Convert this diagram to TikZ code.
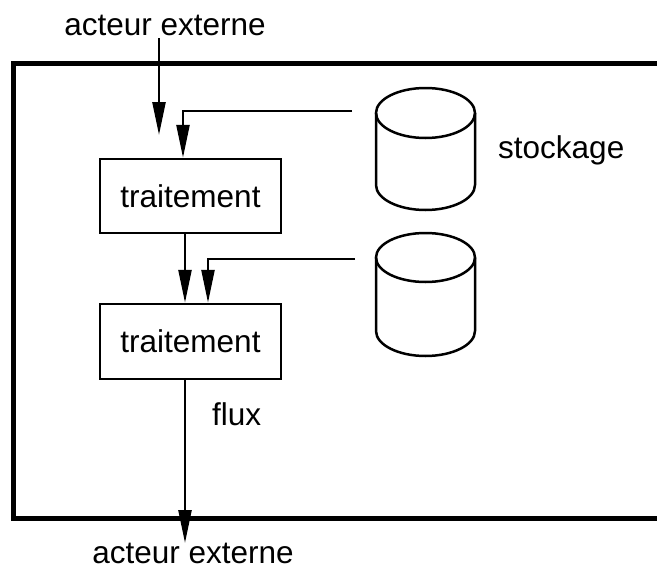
\documentclass[tikz,border=0pt]{standalone}
\usepackage{fontspec}
\setmainfont{Liberation Sans}
\usetikzlibrary{arrows.meta}
\begin{document}
\begin{tikzpicture}[x=1pt,y=-1pt,
  lbl/.style={font=\fontsize{31.5}{36}\selectfont, inner sep=0pt},
  procbox/.style={draw, line width=2.5pt, minimum width=181pt, minimum height=74pt, inner sep=0pt, font=\fontsize{31.5}{36}\selectfont},
  flow/.style={line width=2.5pt, -{Triangle[length=33pt,width=13pt]}},
  store/.style={line width=2.5pt},
  frame/.style={line width=5pt}
]
\useasboundingbox (0,0) rectangle (657,570);
% outer system boundary (open on the right)
\draw[frame] (664,63) -- (13,63) -- (13,518) -- (664,518);

% process boxes
\node[procbox] (t1) at (190.5,196) {traitement};
\node[procbox, minimum height=75pt] (t2) at (190.5,341.5) {traitement};

% labels
\node[lbl, anchor=base] (a1) at (165,35) {acteur externe};
\node[lbl, anchor=base] (a2) at (193,563) {acteur externe};
\node[lbl, anchor=base west] (fx) at (212,425) {flux};
\node[lbl, anchor=base west] (st) at (498,158) {stockage};

% storage cylinders
\draw[store] (376,113) -- (376,185) arc[start angle=180, end angle=360, x radius=49.5pt, y radius=25pt] -- (475,113);
\draw[store] (425.5,113) ellipse[x radius=49.5pt, y radius=25pt];
\draw[store] (376,257.5) -- (376,331) arc[start angle=180, end angle=360, x radius=49.5pt, y radius=25pt] -- (475,257.5);
\draw[store] (425.5,257.5) ellipse[x radius=49.5pt, y radius=24.5pt];

% connector end points
\coordinate (in1) at (159,38);
\coordinate (in1e) at (159,135);
\coordinate (s1) at (352,111);
\coordinate (s2) at (355,259);
\coordinate (out) at (185,543);

% flows
\draw[flow] (in1) -- (in1e);
\draw[flow] (s1) -| ([xshift=-7.5pt]t1.north);
\draw[flow] ([xshift=-5.5pt]t1.south) -- ([xshift=-5.5pt]t2.north);
\draw[flow] (s2) -| ([xshift=17.5pt]t2.north);
\draw[flow] ([xshift=-5.5pt]t2.south) -- (out);
\end{tikzpicture}
\end{document}
